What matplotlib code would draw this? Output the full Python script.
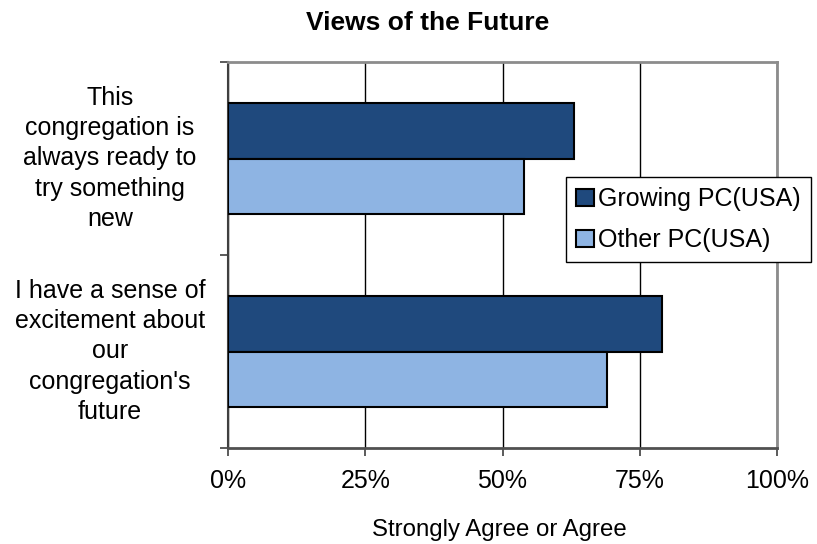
import matplotlib
matplotlib.use("Agg")
import matplotlib.pyplot as plt
from matplotlib.patches import Patch
from matplotlib.transforms import blended_transform_factory
import numpy as np

plt.rcParams['font.family'] = ['Liberation Sans', 'DejaVu Sans']

categories = [
    "This\ncongregation is\nalways ready to\ntry something\nnew",
    "I have a sense of\nexcitement about\nour\ncongregation's\nfuture",
]
series_names = ["Growing PC(USA)", "Other PC(USA)"]
growing = [63, 79]
other = [54, 69]
xticks = [0, 25, 50, 75, 100]
xtick_labels = ["0%", "25%", "50%", "75%", "100%"]

dark = "#1F497D"
light = "#8EB4E3"

W, H = 817, 544
fig = plt.figure(figsize=(W / 100, H / 100), dpi=100)
ax = fig.add_axes([228 / W, (H - 448) / H, 549 / W, 386 / H])

# first category is drawn at the top
ypos = np.array([1.0, 0.0])
bh = 0.285
ax.barh(ypos + bh / 2, growing, height=bh, color=dark, edgecolor="black",
        linewidth=1.5, zorder=3)
ax.barh(ypos - bh / 2, other, height=bh, color=light, edgecolor="black",
        linewidth=1.5, zorder=3)

ax.set_xlim(0, 100)
ax.set_ylim(-0.5, 1.5)
ax.set_xticks(xticks)
ax.set_xticklabels(xtick_labels, fontsize=18)
ax.tick_params(axis="x", length=6, width=1.2, color="#404040", pad=9)
ax.set_yticks([-0.5, 0.5, 1.5])
ax.set_yticklabels([])
ax.tick_params(axis="y", length=6, width=1.2, color="#404040")

ax.grid(axis="x", color="black", linewidth=1.0, zorder=0)
ax.set_axisbelow(True)

for side in ("top", "right"):
    ax.spines[side].set_color("#8C8C8C")
    ax.spines[side].set_linewidth(2)
ax.spines["left"].set_color("#404040")
ax.spines["left"].set_linewidth(1.5)
ax.spines["bottom"].set_color("#505050")
ax.spines["bottom"].set_linewidth(2)

# multi-line category labels, centred in the left margin
label_tf = blended_transform_factory(fig.transFigure, ax.transData)
for yp, lab in zip(ypos, categories):
    ax.text(110 / W, yp, lab, transform=label_tf,
            ha="center", va="center", multialignment="center", fontsize=18,
            linespacing=1.32)

# axis title placed by its baseline so the descenders stay inside the figure
fig.text(499 / W, 1 - 536 / H, "Strongly Agree or Agree", ha="center",
         va="baseline", fontsize=17.3)

fig.text(428 / W, 1 - 30 / H, "Views of the Future", ha="center",
         va="baseline", fontsize=19, fontweight="bold")

handles = [Patch(facecolor=dark, edgecolor="black", linewidth=1.5),
           Patch(facecolor=light, edgecolor="black", linewidth=1.5)]
leg = fig.legend(handles, series_names, loc="upper left",
                 bbox_to_anchor=(566 / W, 1 - 177 / H), fontsize=18,
                 frameon=True, fancybox=False, framealpha=1,
                 edgecolor="black", borderpad=0.4, labelspacing=0.68,
                 handlelength=0.7, handleheight=0.7, handletextpad=0.18,
                 borderaxespad=0)
leg.get_frame().set_linewidth(1.0)
leg.set_zorder(5)

fig.savefig("out.png", dpi=100)
